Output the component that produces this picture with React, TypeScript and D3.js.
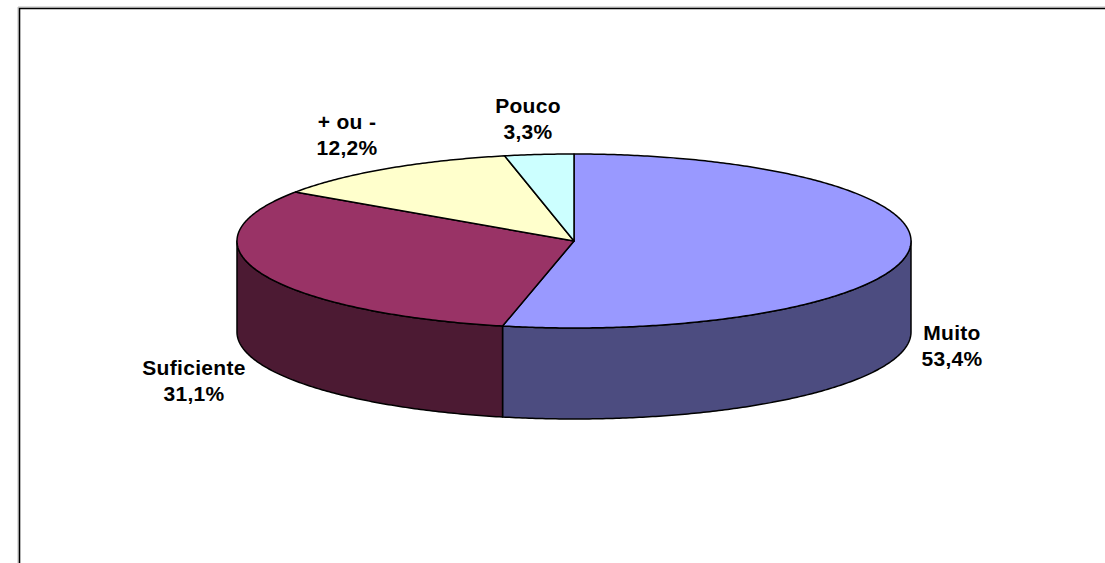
import React from "react";
import * as d3 from "d3";

const categories = ["Muito", "Suficiente", "+ ou -", "Pouco"];
const values = [53.4, 31.1, 12.2, 3.3];
const valueLabels = ["53,4%", "31,1%", "12,2%", "3,3%"];
const topColors = ["#9999FF", "#993366", "#FFFFCC", "#CCFFFF"];
const sideColors = ["#4C4C80", "#4C1A33", "#80806A", "#6A8080"];

const W = 1105;
const H = 563;
const cx = 574;
const cy = 241;
const rx = 337;
const ry = 87;
const depth = 91;

// label positions (centre x, first baseline)
const labelPos: [number, number][] = [
  [952, 340],
  [194, 375],
  [347, 129],
  [528, 113],
];

function pt(a: number, dy = 0): [number, number] {
  return [cx + rx * Math.sin(a), cy - ry * Math.cos(a) + dy];
}

function arcPts(a0: number, a1: number, dy = 0): [number, number][] {
  const n = Math.max(2, Math.ceil(Math.abs(a1 - a0) / 0.01));
  const out: [number, number][] = [];
  for (let i = 0; i <= n; i++) out.push(pt(a0 + ((a1 - a0) * i) / n, dy));
  return out;
}

export default function App() {
  const pie = d3
    .pie<number>()
    .sort(null)
    .startAngle(0)
    .endAngle(2 * Math.PI)(values);
  const line = d3.line();

  const sides: { d: string; fill: string }[] = [];
  pie.forEach((s, i) => {
    const a0 = Math.max(s.startAngle, Math.PI / 2);
    const a1 = Math.min(s.endAngle, (3 * Math.PI) / 2);
    if (a1 > a0) {
      const top = arcPts(a0, a1);
      const bottom = arcPts(a1, a0, depth);
      sides.push({ d: line([...top, ...bottom])! + "Z", fill: sideColors[i] });
    }
  });

  const tops = pie.map((s, i) => {
    const p = [[cx, cy] as [number, number], ...arcPts(s.startAngle, s.endAngle)];
    return { d: line(p)! + "Z", fill: topColors[i] };
  });

  return (
    <svg
      width={W}
      height={H}
      style={{ position: "absolute", left: 0, top: 0, background: "#fff" }}
      fontFamily="'Liberation Sans', Arial, sans-serif"
    >
      <path d={`M18,${H + 5} V7 H${W + 5}`} fill="none" stroke="#bbb" strokeWidth={1} />
      <path d={`M19.5,${H + 5} V8.5 H${W + 5}`} fill="none" stroke="#000" strokeWidth={1.6} />
      {sides.map((s, i) => (
        <path key={"s" + i} d={s.d} fill={s.fill} stroke="#000" strokeWidth={1.5} strokeLinejoin="round" />
      ))}
      {tops.map((t, i) => (
        <path key={"t" + i} d={t.d} fill={t.fill} stroke="#000" strokeWidth={1.5} strokeLinejoin="round" />
      ))}
      {categories.map((c, i) => (
        <text
          key={"l" + i}
          x={labelPos[i][0]}
          y={labelPos[i][1]}
          textAnchor="middle"
          fontSize={21}
          fontWeight="bold"
          fill="#000"
          letterSpacing={0.3}
        >
          <tspan x={labelPos[i][0]}>{c}</tspan>
          <tspan x={labelPos[i][0]} dy={26}>{valueLabels[i]}</tspan>
        </text>
      ))}
    </svg>
  );
}
